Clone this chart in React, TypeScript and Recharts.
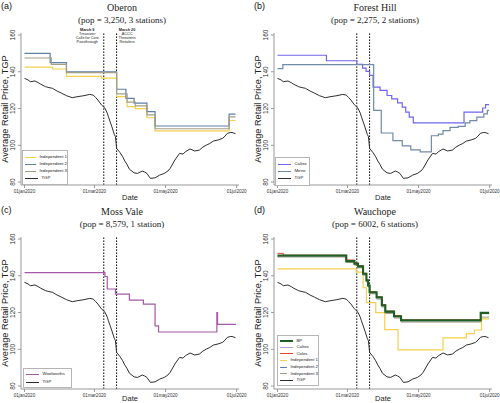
import React from "react";
import { LineChart, Line, XAxis, YAxis, ReferenceLine, Label } from "recharts";

type Pt = [number, number]; // [days since 01jan2020, cents per litre]

const xTicks = [0, 60, 121, 182];
const xTickLabels = ["01jan2020", "01mar2020", "01may2020", "01jul2020"];
const yTicks = [80, 100, 120, 140, 160];
const eventDays = [68, 79]; // 9 March, 20 March

const tgp: Pt[] = [
  [0, 136.4], [3, 135.6], [5, 134.6], [9, 135], [12, 134], [14, 133.2], [18, 131.9], [21, 131.4],
  [24, 131], [28, 129.5], [32, 128.3], [36, 127], [41, 125.9], [45, 126.4], [51, 127], [56, 127.7],
  [59, 127.3], [61, 126], [63, 124.6], [66, 122], [69, 120.2], [71, 117.5], [72, 115.5], [75, 110],
  [77, 106], [78, 104.7], [79, 98.3], [82, 96], [84, 94], [86, 91.5], [88, 89.5], [90, 87],
  [94, 85], [97, 84.7], [101, 86], [103, 85.5], [105, 84.7], [108, 82], [112, 82.3], [116, 83.8],
  [120, 84.7], [123, 86], [125, 87.5], [129, 92], [133, 95.6], [136, 95.2], [138, 96.5], [142, 98],
  [146, 96.9], [150, 97.4], [153, 99], [156, 100.1], [159, 101], [162, 102.3], [166, 102.9],
  [170, 103.8], [172, 105], [174, 106.5], [177, 107], [179, 106.8], [181, 106.3],
];

// Oberon
const oberonInd1: Pt[] = [
  [0, 142.5], [24, 141.5], [36, 137.5], [66, 136.5], [79, 126.5], [88, 121], [95, 120],
  [105, 115], [112, 107.8], [175.5, 113.5], [181, 113.5],
];
const oberonInd2: Pt[] = [
  [0, 150], [22, 145], [36, 140], [79, 130.5], [87, 125.5], [94, 123], [105, 118.3],
  [112, 110.5], [175.5, 117], [181, 117],
];
const oberonInd3: Pt[] = [
  [0, 147.5], [23, 144], [36, 139.5], [79, 128], [88, 123.5], [95, 121.5], [105, 116.5],
  [112, 109], [175.5, 115.5], [181, 115.5],
];

// Forest Hill
const forestCaltex: Pt[] = [
  [0, 149], [42, 146], [68, 144], [73, 142], [76, 140.2], [79, 138], [82, 131.7], [88, 129.9],
  [94, 127.1], [98, 125.3], [103, 123.1], [107, 120.8], [110, 118], [113, 115.3], [116.5, 112.2],
  [160, 118], [176, 120.3], [178.5, 122.1], [181.5, 122.1],
];
const forestMetro: Pt[] = [
  [0, 141.7], [4.6, 143.9], [82.5, 119], [89, 106.7], [99, 102.5], [107, 99.7], [114.3, 97.5],
  [122.4, 96.4], [132, 105.2], [138, 106.1], [142, 108], [148, 109.8], [155, 110.3], [161, 112.2],
  [165, 113.4], [171, 115.3], [177, 117.1], [180, 119], [181.5, 119],
];

// Moss Vale
const mossWoolworths: Pt[] = [
  [0, 141.7], [69, 139.6], [71, 132.8], [78, 130], [90, 126.8], [102, 124.6], [112, 112.7],
  [115, 109.4], [165, 120], [165.6, 113.6], [181.5, 113.6],
];

// Wauchope
const wauBP: Pt[] = [
  [0, 151], [59, 148], [66, 146.6], [69, 145.1], [73.4, 141.1], [76.3, 137.5], [77.7, 134.7],
  [79, 131], [85, 128.3], [89.5, 124], [92.5, 120.5], [100, 118], [106, 115.8], [174.3, 119.8],
  [181.5, 119.8],
];
const wauCaltex: Pt[] = [
  [0, 150.8], [59, 147.8], [66, 146.4], [69, 144.9], [73.4, 140.9], [76.3, 137.3], [77.7, 134.5],
  [79, 130.8], [85, 128.1], [89.5, 123.8], [92.5, 120.3], [100, 117.8], [106, 115.6], [174.3, 119.6],
  [181.5, 119.6],
];
const wauColes: Pt[] = [
  [0, 152.2], [5, 151.2], [59, 148.6], [66, 147], [69, 145.5], [73.4, 141.4], [76.3, 137.8],
  [77.7, 135], [79, 131.3], [85, 128.5], [89.5, 124.3], [92.5, 120.8], [100, 118.3], [106, 116],
  [174.3, 120], [181.5, 120],
];
const wauInd1: Pt[] = [
  [0, 143.8], [67.5, 142], [73.4, 133.5], [76.3, 125.4], [84.3, 120], [92, 110.7], [103.4, 99.7],
  [142, 106.2], [162, 108.5], [169, 110.5], [175, 116.5], [181.5, 116.5],
];
const wauInd2: Pt[] = [
  [0, 150.6], [59, 147.6], [66, 146.2], [69, 144.7], [73.4, 140.7], [76.3, 137.1], [77.7, 134.3],
  [79, 130.6], [85, 127.9], [89.5, 123.6], [92.5, 120.1], [100, 117.6], [106, 115.4], [174.3, 119.4],
  [181.5, 119.4],
];
const wauInd3: Pt[] = [
  [0, 150.2], [59, 147.2], [66, 145.8], [69, 144.3], [73.4, 140.3], [76.3, 136.7], [77.7, 133.9],
  [79, 130.2], [85, 127.3], [89.5, 123], [92.5, 119.5], [100, 117], [106, 114.8], [174.3, 117.5],
  [181.5, 117.5],
];

const C = {
  tgp: "#2e2e2e",
  ind1: "#f5cf4e",
  ind2: "#5f80a8",
  ind3: "#a19f86",
  caltex: "#6f66ee",
  metro: "#6f8ba8",
  woolworths: "#a558a8",
  bp: "#1f5f21",
  coles: "#e2472e",
  caltexD: "#aaa2ea",
};

type Series = { name: string; color: string; width: number; data: Pt[]; top?: boolean };

const SANS = "'Liberation Sans', Arial, sans-serif";
const SERIF = "'Liberation Serif', 'DejaVu Serif', serif";

const rows = (pts: Pt[]) => pts.map(([d, v]) => ({ d, v }));

const XTick = ({ x, y, payload }: any) => (
  <text x={x} y={y} dy="0.71em" textAnchor="middle" fontSize={4.6} fill="#333" fontFamily={SANS}>
    {xTickLabels[xTicks.indexOf(payload.value)]}
  </text>
);

const YTick = ({ x, y, payload }: any) => (
  <text
    x={x - 0.5}
    y={y}
    textAnchor="middle"
    fontSize={6.5}
    fill="#333"
    fontFamily={SANS}
    transform={`rotate(-90 ${x - 0.5} ${y})`}
  >
    {payload.value}
  </text>
);

const Annotation = ({ viewBox, lines, dx }: any) => {
  const cx = viewBox.x + dx;
  return (
    <g>
      {lines.map((t: string, i: number) => (
        <text
          key={i}
          x={cx}
          y={30.5 + i * 4}
          textAnchor="middle"
          fontSize={3.8}
          fontWeight={i === 0 ? "bold" : "normal"}
          fill="#222"
          fontFamily={SANS}
        >
          {t}
        </text>
      ))}
    </g>
  );
};

function LegendBox({ items, left, top, width, rowH, pad }: any) {
  return (
    <div
      style={{
        position: "absolute",
        left,
        top,
        width,
        boxSizing: "border-box",
        border: "0.7px solid #b5b5b5",
        background: "#fff",
        paddingTop: pad,
        paddingBottom: pad,
      }}
    >
      {items.map((s: Series) => (
        <div key={s.name} style={{ height: rowH, display: "flex", alignItems: "center" }}>
          <div style={{ marginLeft: 2, width: 12.5, height: 0, borderTop: `${Math.max(1, s.width)}px solid ${s.color}` }} />
          <span style={{ marginLeft: 4, fontSize: 4.3, lineHeight: 1, fontFamily: SANS, color: "#222", whiteSpace: "nowrap" }}>
            {s.name}
          </span>
        </div>
      ))}
    </div>
  );
}

function Panel({ letter, title, subtitle, series, ox, oy, legend, notes, dateY }: any) {
  const drawn = [...series].sort((a: Series, b: Series) => (a.top ? 1 : 0) - (b.top ? 1 : 0));
  return (
    <div style={{ position: "absolute", left: ox, top: oy, width: 250, height: 202 }}>
      <div style={{ position: "absolute", left: 1, top: 1, fontSize: 9, lineHeight: "10px", fontFamily: SANS, color: "#111" }}>
        ({letter})
      </div>
      <div style={{ position: "absolute", left: 0, top: 1.5, width: 244, textAlign: "center", fontFamily: SERIF, color: "#222" }}>
        <div style={{ fontSize: 10, lineHeight: "12px" }}>{title}</div>
        <div style={{ fontSize: 9, lineHeight: "12px" }}>{subtitle}</div>
      </div>
      <LineChart width={250} height={202} margin={{ top: 33, right: 11, left: 0, bottom: 0 }}>
        <XAxis
          type="number"
          dataKey="d"
          domain={[-3, 184]}
          ticks={xTicks}
          interval={0}
          allowDataOverflow
          height={17}
          tickSize={3}
          tickMargin={2}
          stroke="#999"
          tick={<XTick />}
        >
          <Label
            content={({ viewBox }: any) => (
              <text x={viewBox.x + viewBox.width / 2} y={dateY} textAnchor="middle" fontSize={7.5} fill="#222" fontFamily={SANS}>
                Date
              </text>
            )}
          />
        </XAxis>
        <YAxis
          type="number"
          domain={[78.4, 161.1]}
          ticks={yTicks}
          interval={0}
          allowDataOverflow
          width={21}
          tickSize={3}
          tickMargin={2}
          stroke="#999"
          tick={<YTick />}
        >
          <Label
            content={({ viewBox }: any) => {
              const cy = viewBox.y + viewBox.height / 2;
              return (
                <text x={8.3} y={cy} textAnchor="middle" fontSize={9.2} fill="#222" fontFamily={SANS} transform={`rotate(-90 8.3 ${cy})`}>
                  Average Retail Price, TGP
                </text>
              );
            }}
          />
        </YAxis>
        {eventDays.map((d, i) => (
          <ReferenceLine
            key={d}
            x={d}
            stroke="#111"
            strokeWidth={1}
            strokeDasharray="1.6 1.4"
            label={notes ? <Annotation lines={notes[i]} dx={i === 0 ? -16.5 : 10.5} /> : undefined}
          />
        ))}
        {drawn.map((s: Series) => (
          <Line
            key={s.name}
            data={rows(s.data)}
            dataKey="v"
            name={s.name}
            type={s.name === "TGP" ? "linear" : "stepAfter"}
            stroke={s.color}
            strokeWidth={s.width}
            dot={false}
            activeDot={false}
            isAnimationActive={false}
          />
        ))}
      </LineChart>
      <LegendBox items={series} {...legend} />
    </div>
  );
}

const tgpSeries: Series = { name: "TGP", color: C.tgp, width: 1, data: tgp, top: true };

export default function App() {
  return (
    <div style={{ position: "absolute", left: 0, top: 0, width: 500, height: 403, background: "#fff", overflow: "hidden" }}>
      <Panel
        letter="a"
        title="Oberon"
        subtitle="(pop = 3,250, 3 stations)"
        ox={0}
        oy={0}
        dateY={199.5}
        series={[
          { name: "Independent 1", color: C.ind1, width: 1.2, data: oberonInd1 },
          { name: "Independent 2", color: C.ind2, width: 1.2, data: oberonInd2 },
          { name: "Independent 3", color: C.ind3, width: 1.2, data: oberonInd3 },
          tgpSeries,
        ]}
        legend={{ left: 22, top: 150, width: 46, rowH: 7, pad: 2.5 }}
        notes={[
          ["March 9", "Treasurer", "Calls for Cost", "Passthrough"],
          ["March 20", "ACCC", "Threatens", "Retailers"],
        ]}
      />
      <Panel
        letter="b"
        title="Forest Hill"
        subtitle="(pop = 2,275, 2 stations)"
        ox={253}
        oy={0}
        dateY={199.5}
        series={[
          { name: "Caltex", color: C.caltex, width: 1.2, data: forestCaltex },
          { name: "Metro", color: C.metro, width: 1.2, data: forestMetro },
          tgpSeries,
        ]}
        legend={{ left: 22, top: 157, width: 35, rowH: 7, pad: 2.8 }}
      />
      <Panel
        letter="c"
        title="Moss Vale"
        subtitle="(pop = 8,579, 1 station)"
        ox={0}
        oy={204}
        dateY={196.5}
        series={[{ name: "Woolworths", color: C.woolworths, width: 1.2, data: mossWoolworths }, tgpSeries]}
        legend={{ left: 23, top: 164, width: 49, rowH: 7.7, pad: 1.5 }}
      />
      <Panel
        letter="d"
        title="Wauchope"
        subtitle="(pop = 6002, 6 stations)"
        ox={253}
        oy={204}
        dateY={196.5}
        series={[
          { name: "BP", color: C.bp, width: 2.1, data: wauBP, top: true },
          { name: "Caltex", color: C.caltexD, width: 1, data: wauCaltex },
          { name: "Coles", color: C.coles, width: 1, data: wauColes },
          { name: "Independent 1", color: C.ind1, width: 1.2, data: wauInd1 },
          { name: "Independent 2", color: C.ind2, width: 1, data: wauInd2 },
          { name: "Independent 3", color: C.ind3, width: 1, data: wauInd3 },
          tgpSeries,
        ]}
        legend={{ left: 24, top: 131, width: 42, rowH: 6.6, pad: 1.5 }}
      />
    </div>
  );
}
